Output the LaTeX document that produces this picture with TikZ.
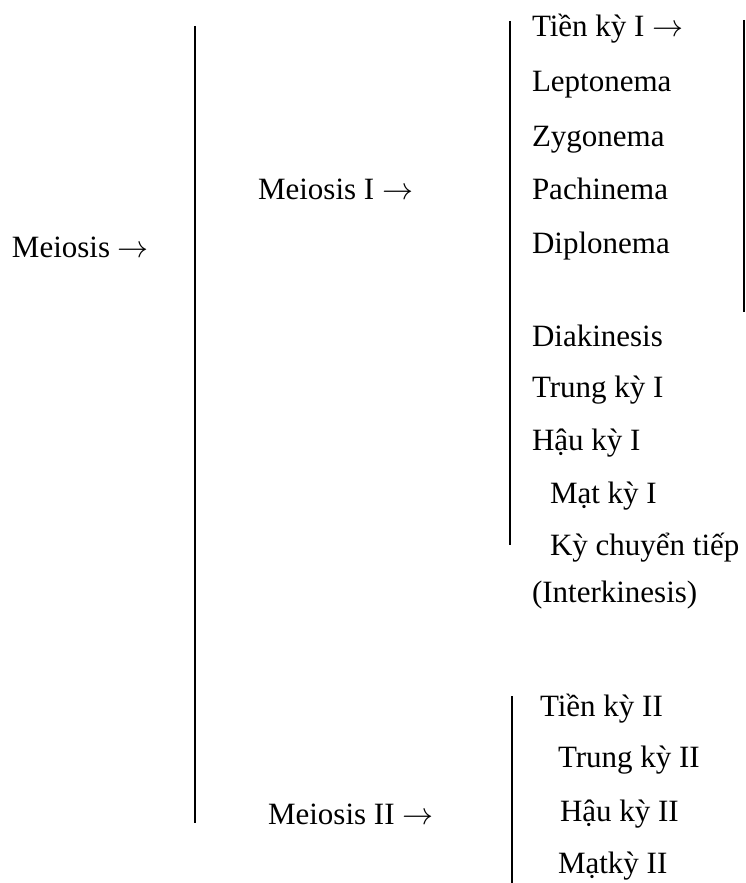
\RequirePackage{fix-cm}
\documentclass[tikz,border=0pt]{standalone}
\usepackage{fontspec}
\setmainfont{Liberation Serif}
\begin{document}
\begin{tikzpicture}[x=1pt,y=-1pt,
  lbl/.style={anchor=base west,inner sep=0pt,outer sep=0pt,font=\fontsize{31}{31}\selectfont},
  bar/.style={line width=1.6pt,black}]
\useasboundingbox (0,0) rectangle (745,883);

% top level
\node[lbl] (meiosis) at (12,257) {Meiosis $\rightarrow$};
\node[lbl] (m1) at (258,199) {Meiosis I $\rightarrow$};
\node[lbl] (m2) at (268,824) {Meiosis II $\rightarrow$};

% stages of meiosis I
\node[lbl] (p1)   at (532,37)  {Tiền kỳ I $\rightarrow$};
\node[lbl] (lep)  at (532,91)  {Leptonema};
\node[lbl] (zyg)  at (532,146) {Zygonema};
\node[lbl] (pac)  at (532,199) {Pachinema};
\node[lbl] (dip)  at (532,253) {Diplonema};
\node[lbl] (dia)  at (532,346) {Diakinesis};
\node[lbl] (tr1)  at (532,397) {Trung kỳ I};
\node[lbl] (ha1)  at (532,450) {Hậu kỳ I};
\node[lbl] (ma1)  at (550,503) {Mạt kỳ I};
\node[lbl] (kct)  at (550,555) {Kỳ chuyển tiếp};
\node[lbl] (inter) at (532,602) {(Interkinesis)};

% stages of meiosis II
\node[lbl] (p2)  at (540,716) {Tiền kỳ II};
\node[lbl] (tr2) at (558,767) {Trung kỳ II};
\node[lbl] (ha2) at (560,821) {Hậu kỳ II};
\node[lbl] (ma2) at (558,873) {Mạtkỳ II};

% grouping bars
\coordinate (b1t) at (195,26);  \coordinate (b1b) at (195,823);
\coordinate (b2t) at (510,21);  \coordinate (b2b) at (510,545);
\coordinate (b3t) at (744,20);  \coordinate (b3b) at (744,312);
\coordinate (b4t) at (512,696); \coordinate (b4b) at (512,883);
\draw[bar] (b1t) -- (b1b);
\draw[bar] (b2t) -- (b2b);
\draw[bar] (b3t) -- (b3b);
\draw[bar] (b4t) -- (b4b);
\end{tikzpicture}
\end{document}
